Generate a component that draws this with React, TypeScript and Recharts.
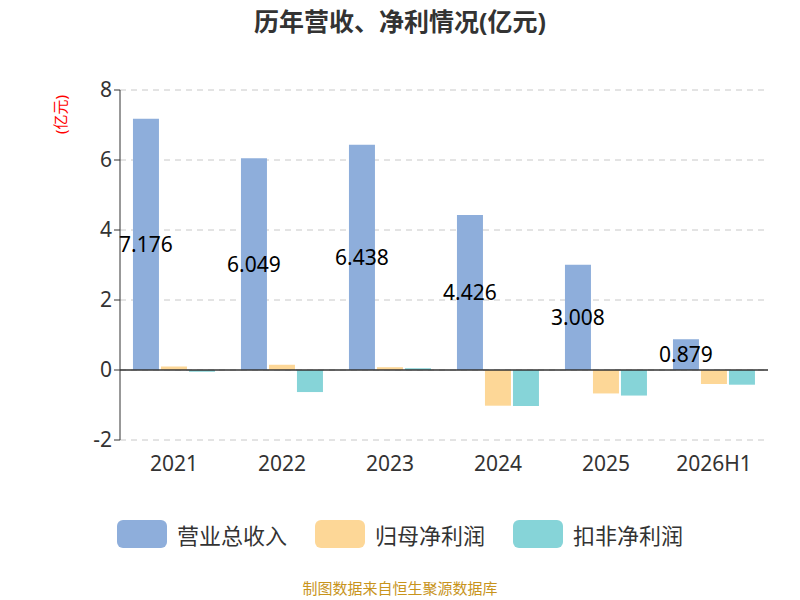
import React from 'react';
import { BarChart, Bar, XAxis, YAxis, CartesianGrid, ReferenceLine, LabelList } from 'recharts';

const years = ['2021', '2022', '2023', '2024', '2025', '2026H1'];
const revenue = [7.176, 6.049, 6.438, 4.426, 3.008, 0.879];
const netProfit = [0.1, 0.15, 0.08, -1.02, -0.67, -0.4];
const deducted = [-0.05, -0.63, 0.05, -1.03, -0.73, -0.42];
const yTicks = [-2, 0, 2, 4, 6, 8];

const data = years.map((y, i) => ({ year: y, revenue: revenue[i], net: netProfit[i], ded: deducted[i] }));

const series = [
  { key: 'revenue', name: '营业总收入', color: '#8eaedb' },
  { key: 'net', name: '归母净利润', color: '#fdd797' },
  { key: 'ded', name: '扣非净利润', color: '#86d4d8' },
];

const font = '"Noto Sans", "Noto Sans CJK SC", sans-serif';

const App: React.FC = () => {
  return (
    <div style={{ position: 'absolute', left: 0, top: 0, width: 800, height: 600, background: '#fff', fontFamily: font }}>
      <div style={{ position: 'absolute', top: 2, width: 800, textAlign: 'center', fontSize: 25, fontWeight: 'bold', color: '#333' }}>
        历年营收、净利情况(亿元)
      </div>
      <div style={{ position: 'absolute', left: 34, top: 104, color: 'red', fontSize: 15, transform: 'rotate(-90deg)', transformOrigin: 'center', width: 50, textAlign: 'center' }}>
        (亿元)
      </div>
      <BarChart width={800} height={600} data={data} margin={{ top: 90, right: 32, left: 60, bottom: 120 }} barCategoryGap="12%" barGap={2}>
        <CartesianGrid vertical={false} stroke="#c8c8c8" strokeDasharray="6 5" />
        <XAxis dataKey="year" axisLine={false} tickLine={false} tick={{ fill: '#333', fontSize: 21, fontFamily: font }} tickMargin={10} height={40} />
        <YAxis domain={[-2, 8]} ticks={yTicks} width={60} axisLine={{ stroke: '#333' }} tickLine={{ stroke: '#333' }} tick={{ fill: '#333', fontSize: 21, fontFamily: font }} />
        <ReferenceLine y={0} stroke="#333" strokeWidth={1.5} />
        {series.map((s) => (
          <Bar key={s.key} dataKey={s.key} name={s.name} fill={s.color} isAnimationActive={false}>
            {s.key === 'revenue' && (
              <LabelList dataKey="revenue" position="center" fill="#000" fontSize={21} fontFamily={font} />
            )}
          </Bar>
        ))}
      </BarChart>
      <div style={{ position: 'absolute', top: 518, width: 800, display: 'flex', justifyContent: 'center', gap: 28, fontSize: 22, color: '#333' }}>
        {series.map((s) => (
          <div key={s.key} style={{ display: 'flex', alignItems: 'center' }}>
            <span style={{ display: 'inline-block', width: 50, height: 28, borderRadius: 6, background: s.color, marginRight: 10 }} />
            {s.name}
          </div>
        ))}
      </div>
      <div style={{ position: 'absolute', top: 577, width: 800, textAlign: 'center', fontSize: 15, color: '#c8941c' }}>
        制图数据来自恒生聚源数据库
      </div>
    </div>
  );
};

export default App;
